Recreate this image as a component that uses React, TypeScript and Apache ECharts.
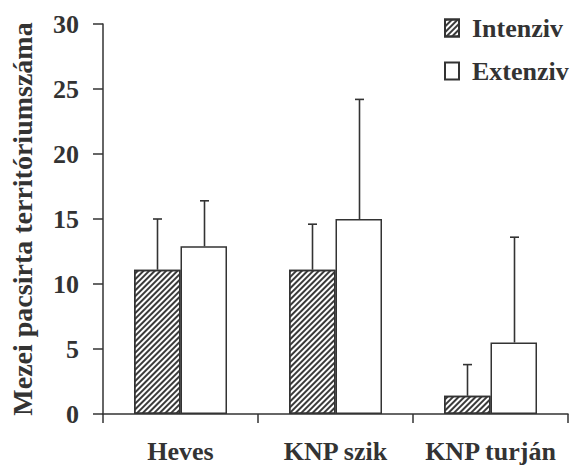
import React, { useEffect, useRef } from "react";
import * as echarts from "echarts";

const categories = ["Heves", "KNP szik", "KNP turján"];
const seriesNames = ["Intenziv", "Extenziv"];
const intenzivMeans = [11.1, 11.1, 1.4];
const intenzivUpper = [15.0, 14.6, 3.8];
const extenzivMeans = [12.9, 15.0, 5.5];
const extenzivUpper = [16.4, 24.2, 13.6];
const yTicks = { min: 0, max: 30, interval: 5 };
const yAxisTitle = "Mezei pacsirta territóriumszáma";

const INK = "#333";
const FONT = "'Liberation Serif', 'Times New Roman', serif";
const BAR_FRACTION = 0.3;

function errorSeries(upper: number[], means: number[], side: number) {
  return {
    type: "custom",
    silent: true,
    z: 3,
    encode: { x: 0, y: [1, 2] },
    data: means.map((m, i) => [i, m, upper[i]]),
    renderItem: (params: any, api: any) => {
      const idx = api.value(0);
      const base = api.coord([idx, api.value(1)]);
      const top = api.coord([idx, api.value(2)]);
      const band = api.size([1, 0])[0];
      const x = Math.round(base[0] + side * (band * BAR_FRACTION) / 2) + 0.5;
      const capHalf = 4.5;
      const style = { stroke: INK, lineWidth: 1.6, fill: "none" };
      return {
        type: "group",
        children: [
          { type: "line", shape: { x1: x, y1: base[1], x2: x, y2: top[1] }, style },
          { type: "line", shape: { x1: x - capHalf, y1: top[1], x2: x + capHalf, y2: top[1] }, style },
        ],
      };
    },
  };
}

export default function App() {
  const ref = useRef<HTMLDivElement>(null);
  useEffect(() => {
    if (!ref.current) return;
    const chart = echarts.init(ref.current, undefined, { renderer: "svg" });
    const textStyle = { fontFamily: FONT, fontWeight: "bold" as const, color: INK };
    chart.setOption({
      animation: false,
      backgroundColor: "#fff",
      grid: { left: 103, right: 4, top: 24, bottom: 52, containLabel: false, outerBoundsMode: "none" },
      legend: {
        orient: "vertical",
        left: 439,
        top: 9,
        itemWidth: 14,
        itemHeight: 17,
        itemGap: 15,
        icon: "rect",
        data: seriesNames,
        textStyle: { ...textStyle, fontSize: 26, lineHeight: 28, padding: [0, 0, 0, 8] },
      },
      xAxis: {
        type: "category",
        data: categories,
        axisLine: { lineStyle: { color: INK, width: 1.5 } },
        axisTick: { show: true, length: 9, alignWithLabel: false, lineStyle: { color: INK, width: 1.5 } },
        axisLabel: { ...textStyle, fontSize: 26, lineHeight: 25, margin: 25, interval: 0 },
      },
      yAxis: {
        type: "value",
        min: yTicks.min,
        max: yTicks.max,
        interval: yTicks.interval,
        name: yAxisTitle,
        nameLocation: "middle",
        nameGap: 67,
        nameTextStyle: { ...textStyle, fontSize: 28 },
        splitLine: { show: false },
        axisLine: { show: true, lineStyle: { color: INK, width: 1.5 } },
        axisTick: { show: true, length: 10, lineStyle: { color: INK, width: 1.5 } },
        axisLabel: { ...textStyle, fontSize: 26, margin: 24 },
      },
      series: [
        {
          name: seriesNames[0],
          type: "bar",
          data: intenzivMeans,
          barWidth: `${BAR_FRACTION * 100}%`,
          barGap: "0%",
          itemStyle: {
            color: "#fff",
            borderColor: INK,
            borderWidth: 1.5,
            decal: {
              symbol: "rect",
              symbolSize: 1,
              color: "#3a3a3a",
              backgroundColor: "#fff",
              dashArrayX: [1, 0],
              dashArrayY: [1.5, 2],
              rotation: -Math.PI / 4,
            },
          },
        },
        {
          name: seriesNames[1],
          type: "bar",
          data: extenzivMeans,
          barWidth: `${BAR_FRACTION * 100}%`,
          barGap: "0%",
          itemStyle: { color: "#fff", borderColor: INK, borderWidth: 1.5 },
        },
        errorSeries(intenzivUpper, intenzivMeans, -1),
        errorSeries(extenzivUpper, extenzivMeans, 1),
      ],
    });
    return () => chart.dispose();
  }, []);
  return <div ref={ref} style={{ position: "fixed", left: 0, top: 0, width: 572, height: 466 }} />;
}
